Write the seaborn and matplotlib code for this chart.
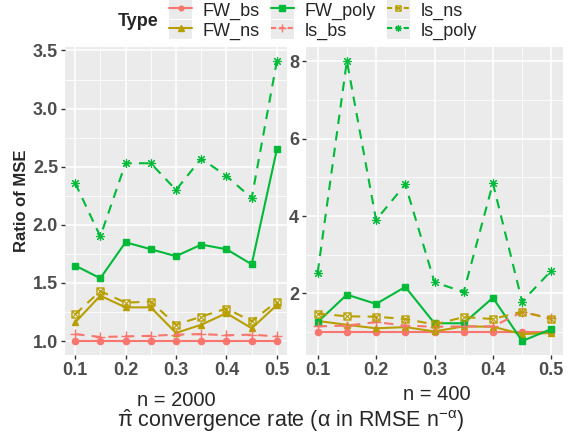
import pandas as pd
import matplotlib.pyplot as plt
import matplotlib.ticker as mticker
from matplotlib.patches import Patch
from matplotlib.lines import Line2D
import seaborn as sns

# ---------------- DATA ----------------
alpha = [0.1, 0.15, 0.2, 0.25, 0.3, 0.35, 0.4, 0.45, 0.5]
types = ["FW_bs", "FW_ns", "FW_poly", "ls_bs", "ls_ns", "ls_poly"]

# n = 2000
fw_bs_2000 = [1.00, 1.00, 1.00, 1.00, 1.00, 1.00, 1.00, 1.00, 1.00]
fw_ns_2000 = [1.16, 1.39, 1.29, 1.29, 1.07, 1.14, 1.24, 1.11, 1.31]
fw_poly_2000 = [1.65, 1.54, 1.85, 1.79, 1.73, 1.83, 1.79, 1.66, 2.65]
ls_bs_2000 = [1.06, 1.035, 1.04, 1.045, 1.055, 1.06, 1.05, 1.055, 1.04]
ls_ns_2000 = [1.23, 1.43, 1.33, 1.34, 1.14, 1.21, 1.28, 1.17, 1.34]
ls_poly_2000 = [2.36, 1.90, 2.53, 2.53, 2.30, 2.57, 2.42, 2.23, 3.41]

# n = 400
fw_bs_400 = [1.00, 1.00, 1.00, 1.00, 1.00, 1.00, 1.00, 1.00, 1.00]
fw_ns_400 = [1.29, 1.19, 1.10, 1.13, 1.02, 1.15, 1.14, 0.95, 0.98]
fw_poly_400 = [1.26, 1.97, 1.73, 2.17, 1.23, 1.23, 1.89, 0.77, 1.08]
ls_bs_400 = [1.15, 1.17, 1.26, 1.17, 1.14, 1.15, 1.15, 1.52, 1.36]
ls_ns_400 = [1.48, 1.41, 1.40, 1.34, 1.20, 1.39, 1.34, 1.53, 1.34]
ls_poly_400 = [2.54, 8.01, 3.90, 4.82, 2.29, 2.04, 4.85, 1.79, 2.59]


def long_form(series):
    rows = []
    for t, vals in zip(types, series):
        for a, v in zip(alpha, vals):
            rows.append({"alpha": a, "ratio": v, "Type": t})
    return pd.DataFrame(rows)


df2000 = long_form([fw_bs_2000, fw_ns_2000, fw_poly_2000, ls_bs_2000, ls_ns_2000, ls_poly_2000])
df400 = long_form([fw_bs_400, fw_ns_400, fw_poly_400, ls_bs_400, ls_ns_400, ls_poly_400])

# ---------------- STYLE ----------------
red, gold, green = "#F8766D", "#B79F00", "#00BA38"
palette = {"FW_bs": red, "FW_ns": gold, "FW_poly": green,
           "ls_bs": red, "ls_ns": gold, "ls_poly": green}
markers = {"FW_bs": "o", "FW_ns": "^", "FW_poly": "s",
           "ls_bs": "+", "ls_ns": r"$\boxtimes$", "ls_poly": (8, 2, 0)}
msizes = {"FW_bs": 4.5, "FW_ns": 5, "FW_poly": 5,
          "ls_bs": 7, "ls_ns": 5.5, "ls_poly": 6.5}
mews = {"FW_bs": 1.0, "FW_ns": 1.0, "FW_poly": 1.0,
        "ls_bs": 1.0, "ls_ns": 0.4, "ls_poly": 0.8}
dash = (0, (4.5, 3.5))
styles = {"FW_bs": "-", "FW_ns": "-", "FW_poly": "-",
          "ls_bs": dash, "ls_ns": dash, "ls_poly": dash}

sns.set_theme(style="darkgrid", rc={"axes.facecolor": "#EBEBEB"})
plt.rcParams["font.family"] = ["Liberation Sans", "DejaVu Sans"]
plt.rcParams["mathtext.fontset"] = "custom"
plt.rcParams["mathtext.rm"] = "Liberation Sans"
plt.rcParams["mathtext.it"] = "Liberation Sans"

fig = plt.figure(figsize=(5.7, 4.38), dpi=100)
ax1 = fig.add_axes([65 / 570, 1 - 355 / 438, 222 / 570, 308 / 438])
ax2 = fig.add_axes([306 / 570, 1 - 355 / 438, 257 / 570, 308 / 438])

for ax, df in [(ax1, df2000), (ax2, df400)]:
    for t in types:
        sns.lineplot(data=df[df["Type"] == t], x="alpha", y="ratio",
                     color=palette[t], marker=markers[t], linestyle=styles[t],
                     errorbar=None, linewidth=1.5, markersize=msizes[t],
                     markeredgecolor=palette[t], markeredgewidth=mews[t], ax=ax)
    ax.set_xlim(0.08, 0.52)
    ax.xaxis.set_major_locator(mticker.FixedLocator([0.1, 0.2, 0.3, 0.4, 0.5]))
    ax.xaxis.set_minor_locator(mticker.FixedLocator([0.15, 0.25, 0.35, 0.45]))
    ax.grid(which="major", color="white", linewidth=1.1)
    ax.grid(which="minor", color="white", linewidth=0.55)
    ax.tick_params(which="major", length=3, width=1, color="#333333",
                   labelsize=13, labelcolor="#4D4D4D", pad=2, bottom=True, left=True)
    ax.tick_params(which="minor", length=0)
    for s in ax.spines.values():
        s.set_visible(False)
    ax.set_xlabel("")
    ax.set_ylabel("")

ax1.set_ylim(0.88, 3.53)
ax1.yaxis.set_major_locator(mticker.FixedLocator([1.0, 1.5, 2.0, 2.5, 3.0, 3.5]))
ax1.yaxis.set_minor_locator(mticker.FixedLocator([1.25, 1.75, 2.25, 2.75, 3.25]))
ax1.yaxis.set_major_formatter(mticker.FormatStrFormatter("%.1f"))
ax2.set_ylim(0.41, 8.37)
ax2.yaxis.set_major_locator(mticker.FixedLocator([2, 4, 6, 8]))
ax2.yaxis.set_minor_locator(mticker.FixedLocator([1, 3, 5, 7]))
for ax in (ax1, ax2):
    for lab in ax.get_xticklabels() + ax.get_yticklabels():
        lab.set_fontweight("bold")

fig.text(22 / 570, 1 - 201 / 438, "Ratio of MSE", rotation=90, ha="center",
         va="center", fontsize=12, fontweight="bold")
fig.text(176 / 570, 1 - 400 / 438, "n = 2000", ha="center", va="center", fontsize=14.5)
fig.text(437 / 570, 1 - 394 / 438, "n = 400", ha="center", va="center", fontsize=14.5)
fig.text(291 / 570, 1 - 421 / 438,
         r"$\hat{\pi}$ convergence rate ($\alpha$ in RMSE n$^{-\alpha}$)",
         ha="center", va="center", fontsize=15.5)

# ---------------- LEGEND ----------------
handles = []
for t in types:
    ln = Line2D([], [], color=palette[t], marker=markers[t],
                markersize=msizes[t] * 0.75, markeredgewidth=mews[t],
                linewidth=1.5,
                linestyle="-" if styles[t] == "-" else (0, (2.5, 1.5)))
    handles.append((Patch(facecolor="#EBEBEB", edgecolor="none"), ln))
fig.text(138 / 570, 1 - 21 / 438, "Type", ha="center", va="center",
         fontsize=13, fontweight="bold")
fig.legend(handles, types, loc="upper left", bbox_to_anchor=(169 / 570, 1.0),
           ncol=3, frameon=False, fontsize=13, handlelength=1.3,
           handleheight=1.25, handletextpad=0.57, columnspacing=0.6,
           labelspacing=0.0, borderpad=0.0, borderaxespad=0.0)

fig.savefig("out.png", dpi=100)
